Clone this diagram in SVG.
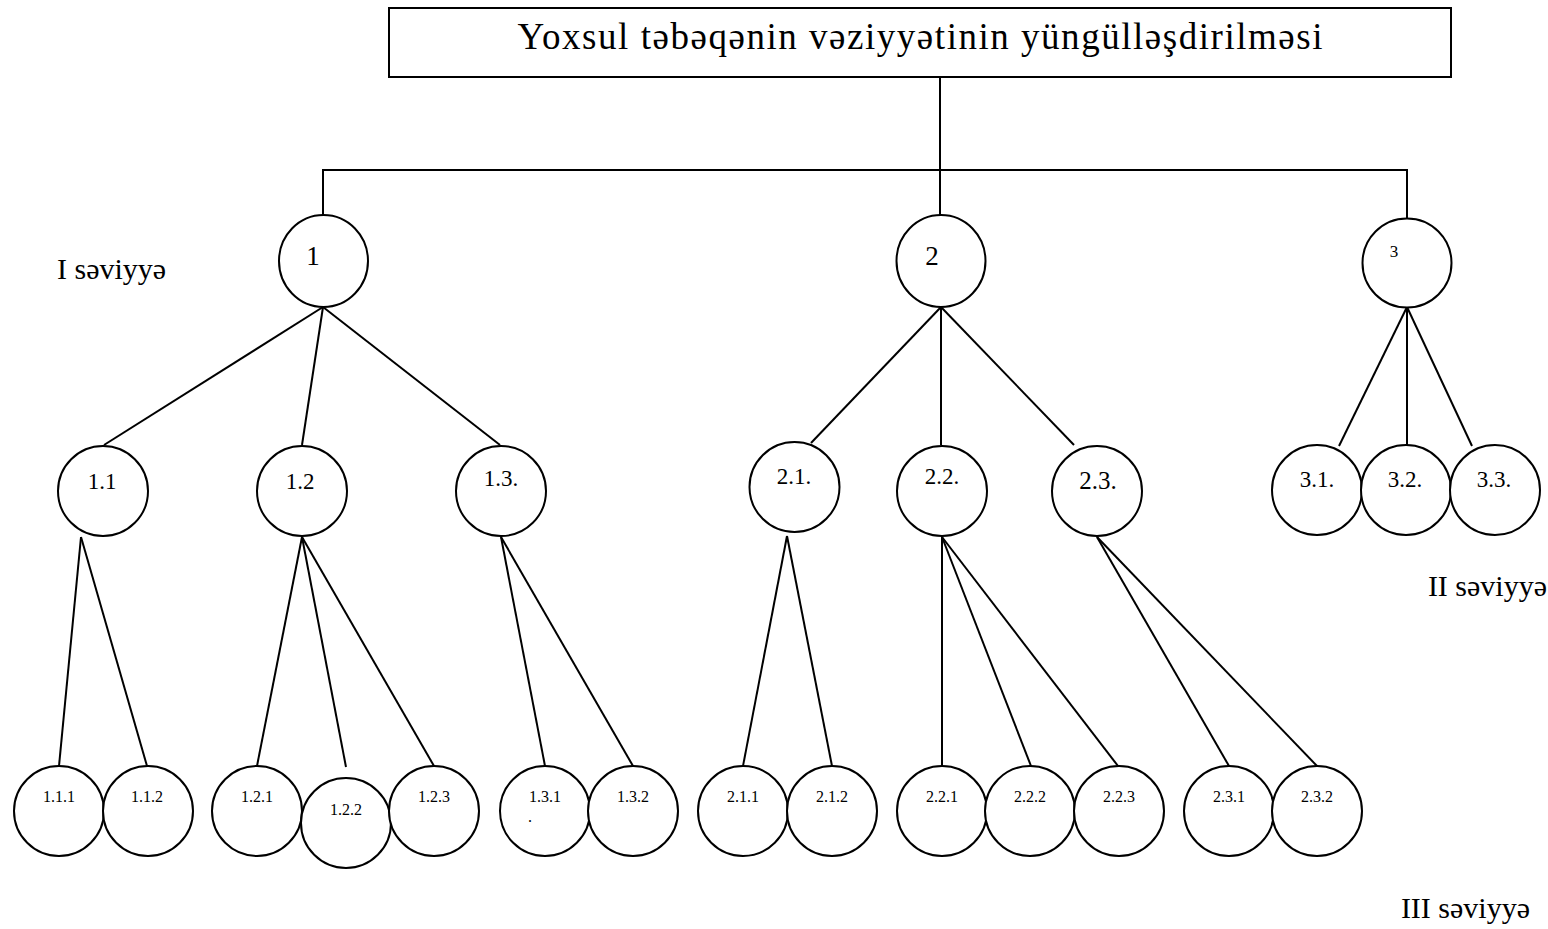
<svg xmlns="http://www.w3.org/2000/svg" width="1548" height="929" viewBox="0 0 1548 929">
<style>
text{font-family:"Liberation Serif","Times New Roman",serif;fill:#000}
.n{fill:#fff;stroke:#000;stroke-width:2}
.c line,.c polyline{stroke:#000;stroke-width:2;fill:none}
.t1{font-size:27px;text-anchor:middle}
.t2{font-size:23px;text-anchor:middle}
.t3{font-size:16px;text-anchor:middle}
.lv{font-size:30px}
</style>
<rect width="1548" height="929" fill="#fff"/>
<g class="c" id="connectors">
<line x1="940" y1="77" x2="940" y2="170"/>
<polyline points="323,215 323,170 1407,170 1407,218"/>
<line x1="940" y1="170" x2="940" y2="215"/>
<line x1="323" y1="307" x2="104" y2="445"/>
<line x1="323" y1="307" x2="302" y2="445"/>
<line x1="323" y1="307" x2="500" y2="445"/>
<line x1="941" y1="307" x2="811" y2="443"/>
<line x1="941" y1="307" x2="941" y2="445"/>
<line x1="941" y1="307" x2="1074" y2="445"/>
<line x1="1407" y1="307" x2="1339" y2="446"/>
<line x1="1407" y1="307" x2="1407" y2="445"/>
<line x1="1407" y1="307" x2="1472" y2="446"/>
<line x1="81" y1="537" x2="59" y2="766"/>
<line x1="81" y1="537" x2="147" y2="766"/>
<line x1="302" y1="537" x2="257" y2="766"/>
<line x1="302" y1="537" x2="346" y2="767"/>
<line x1="302" y1="537" x2="434" y2="766"/>
<line x1="501" y1="537" x2="545" y2="766"/>
<line x1="501" y1="537" x2="633" y2="766"/>
<line x1="787" y1="536" x2="743" y2="766"/>
<line x1="787" y1="536" x2="832" y2="766"/>
<line x1="942" y1="537" x2="942" y2="766"/>
<line x1="942" y1="537" x2="1031" y2="766"/>
<line x1="942" y1="537" x2="1118" y2="766"/>
<line x1="1097" y1="537" x2="1229" y2="766"/>
<line x1="1097" y1="537" x2="1317" y2="766"/>
</g>
<g id="root"><rect class="n" x="389" y="8" width="1062" height="69"/><text x="920" y="49" style="font-size:37px;text-anchor:middle" textLength="805" lengthAdjust="spacing">Yoxsul təbəqənin vəziyyətinin yüngülləşdirilməsi</text></g>
<g id="n1"><ellipse class="n" cx="323.5" cy="261" rx="44.5" ry="46"/><text class="t1" x="313" y="265">1</text></g>
<g id="n2"><ellipse class="n" cx="941" cy="261" rx="44.5" ry="46"/><text class="t1" x="932" y="265">2</text></g>
<g id="n3"><ellipse class="n" cx="1407" cy="263" rx="44.5" ry="44.5"/><text x="1394" y="257" style="font-size:17px;text-anchor:middle">3</text></g>
<g id="n1_1"><circle class="n" cx="103" cy="491" r="45"/><text class="t2" x="102" y="489">1.1</text></g>
<g id="n1_2"><circle class="n" cx="302" cy="491" r="45"/><text class="t2" x="300" y="489">1.2</text></g>
<g id="n1_3"><circle class="n" cx="501" cy="491" r="45"/><text class="t2" x="501" y="486">1.3.</text></g>
<g id="n2_1"><circle class="n" cx="794.5" cy="487" r="45"/><text class="t2" x="794" y="484">2.1.</text></g>
<g id="n2_2"><circle class="n" cx="942" cy="491" r="45"/><text class="t2" x="942" y="484">2.2.</text></g>
<g id="n2_3"><circle class="n" cx="1097" cy="491" r="45"/><text class="t2" x="1098" y="489" style="font-size:25px">2.3.</text></g>
<g id="n3_1"><circle class="n" cx="1317" cy="490" r="45"/><text class="t2" x="1317" y="487">3.1.</text></g>
<g id="n3_2"><circle class="n" cx="1406" cy="490" r="45"/><text class="t2" x="1405" y="487">3.2.</text></g>
<g id="n3_3"><circle class="n" cx="1495" cy="490" r="45"/><text class="t2" x="1494" y="487">3.3.</text></g>
<g id="n1_1_1"><circle class="n" cx="59" cy="811" r="45"/><text class="t3" x="59" y="802">1.1.1</text></g>
<g id="n1_1_2"><circle class="n" cx="148" cy="811" r="45"/><text class="t3" x="147" y="802">1.1.2</text></g>
<g id="n1_2_1"><circle class="n" cx="257" cy="811" r="45"/><text class="t3" x="257" y="802">1.2.1</text></g>
<g id="n1_2_2"><circle class="n" cx="346" cy="823" r="45"/><text class="t3" x="346" y="815">1.2.2</text></g>
<g id="n1_2_3"><circle class="n" cx="434" cy="811" r="45"/><text class="t3" x="434" y="802">1.2.3</text></g>
<g id="n1_3_1"><circle class="n" cx="545" cy="811" r="45"/><text class="t3" x="545" y="802">1.3.1</text><text class="t3" x="530" y="822">.</text></g>
<g id="n1_3_2"><circle class="n" cx="633" cy="811" r="45"/><text class="t3" x="633" y="802">1.3.2</text></g>
<g id="n2_1_1"><circle class="n" cx="743" cy="811" r="45"/><text class="t3" x="743" y="802">2.1.1</text></g>
<g id="n2_1_2"><circle class="n" cx="832" cy="811" r="45"/><text class="t3" x="832" y="802">2.1.2</text></g>
<g id="n2_2_1"><circle class="n" cx="942" cy="811" r="45"/><text class="t3" x="942" y="802">2.2.1</text></g>
<g id="n2_2_2"><circle class="n" cx="1030" cy="811" r="45"/><text class="t3" x="1030" y="802">2.2.2</text></g>
<g id="n2_2_3"><circle class="n" cx="1119" cy="811" r="45"/><text class="t3" x="1119" y="802">2.2.3</text></g>
<g id="n2_3_1"><circle class="n" cx="1229" cy="811" r="45"/><text class="t3" x="1229" y="802">2.3.1</text></g>
<g id="n2_3_2"><circle class="n" cx="1317" cy="811" r="45"/><text class="t3" x="1317" y="802">2.3.2</text></g>
<g id="levels">
<text class="lv" x="57" y="279">I səviyyə</text>
<text class="lv" x="1547" y="596" text-anchor="end">II səviyyə</text>
<text class="lv" x="1530" y="918" text-anchor="end">III səviyyə</text>
</g>
</svg>
